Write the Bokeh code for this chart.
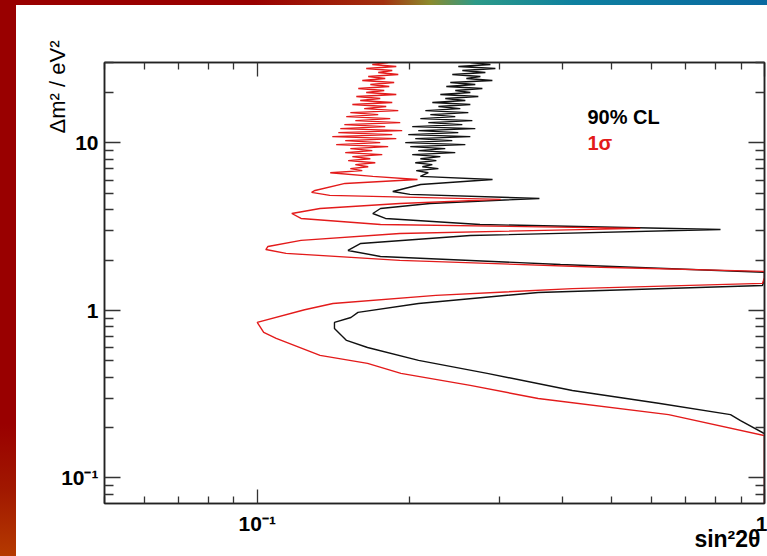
from bokeh.plotting import figure
from bokeh.models import FixedTicker, LogAxis, Label, Div, Range1d, Title
from bokeh.layouts import column, row
from bokeh.embed import file_html
from bokeh.resources import INLINE

# ---------------- data ----------------
red_dm2 = [30.2, 29.38, 28.58, 27.80, 27.05, 26.31, 25.60, 24.90, 24.23, 23.57, 22.93, 22.31,
           21.70, 21.11, 20.54, 19.98, 19.44, 18.91, 18.40, 17.90, 17.41, 16.94, 16.48, 16.03,
           15.59, 15.17, 14.76, 14.36, 13.97, 13.59, 13.22, 12.86, 12.51, 12.17, 11.84, 11.52,
           11.21, 10.90, 10.61, 10.32, 10.04, 9.77, 9.50, 9.24, 8.99, 8.75, 8.51, 8.28, 8.05,
           7.84, 7.62, 7.42, 7.21, 7.02, 6.83, 6.64,
           6.31, 6.05, 5.73, 5.20, 5.07, 4.86, 4.60, 4.35, 4.06, 3.79, 3.54, 3.26, 3.09, 2.88,
           2.62, 2.41, 2.31, 2.19, 1.99, 1.81, 1.71, 1.57, 1.45, 1.35, 1.23, 1.10, 1.01, 0.848,
           0.739, 0.681, 0.539, 0.483, 0.421, 0.357, 0.298, 0.239, 0.179, 0.0704]
red_sin2 = [0.1812, 0.1686, 0.1880, 0.1640, 0.1846, 0.1732, 0.1897, 0.1655, 0.1788, 0.1611,
            0.1862, 0.1671, 0.1821, 0.1582, 0.1780, 0.1640, 0.1880, 0.1568, 0.1748, 0.1596,
            0.1846, 0.1540, 0.1796, 0.1625, 0.1897, 0.1526, 0.1732, 0.1498, 0.1829, 0.1561,
            0.1914, 0.1485, 0.1788, 0.1458, 0.1931, 0.1445, 0.1846, 0.1406, 0.1880, 0.1491,
            0.1748, 0.1431, 0.1812, 0.1526, 0.1686, 0.1491, 0.1764, 0.1540, 0.1671, 0.1511,
            0.1709, 0.1561, 0.1655, 0.1526, 0.1611, 0.1393,
            0.169, 0.207, 0.149, 0.130, 0.128, 0.139, 0.302, 0.191, 0.133, 0.117, 0.122, 0.175,
            0.569, 0.191, 0.122, 0.105, 0.104, 0.114, 0.191, 0.475, 1.0, 1.0, 0.991, 0.418,
            0.225, 0.141, 0.124, 0.100, 0.103, 0.109, 0.133, 0.165, 0.192, 0.263, 0.358, 0.647,
            1.0, 1.0]

black_dm2 = [30.2, 29.38, 28.58, 27.80, 27.05, 26.31, 25.60, 24.90, 24.23, 23.57, 22.93, 22.31,
             21.70, 21.11, 20.54, 19.98, 19.44, 18.91, 18.40, 17.90, 17.41, 16.94, 16.48, 16.03,
             15.59, 15.17, 14.76, 14.36, 13.97, 13.59, 13.22, 12.86, 12.51, 12.17, 11.84, 11.52,
             11.21, 10.90, 10.61, 10.32, 10.04, 9.77, 9.50, 9.24, 8.99, 8.75, 8.51, 8.28, 8.05,
             7.84, 7.62, 7.42, 7.21, 7.02, 6.83, 6.64,
             6.31, 6.05, 5.65, 5.13, 4.93, 4.66, 4.35, 4.06, 3.79, 3.54, 3.26, 3.04, 2.80, 2.51,
             2.28, 2.10, 1.88, 1.69, 1.55, 1.41, 1.28, 1.10, 0.973, 0.908, 0.848, 0.781, 0.662,
             0.601, 0.503, 0.421, 0.333, 0.279, 0.239, 0.220, 0.184, 0.0704]
black_sin2 = [0.2631, 0.2882, 0.2491, 0.2948, 0.2537, 0.2817, 0.2424, 0.2754, 0.2584, 0.2908,
              0.2402, 0.2691, 0.2359, 0.2779, 0.2457, 0.2631, 0.2296, 0.2728, 0.2348, 0.2572,
              0.2214, 0.2631, 0.2276, 0.2514, 0.2145, 0.2607, 0.2194, 0.2457, 0.2097, 0.2655,
              0.2174, 0.2537, 0.2021, 0.2691, 0.2077, 0.2491, 0.1985, 0.2631, 0.2049, 0.2424,
              0.1958, 0.2572, 0.2003, 0.2348, 0.2077, 0.2457, 0.2021, 0.2296, 0.2097, 0.2255,
              0.2049, 0.2214, 0.2116, 0.2276, 0.2058, 0.2174,
              0.2097, 0.291, 0.210, 0.185, 0.200, 0.360, 0.219, 0.175, 0.169, 0.179, 0.275, 0.819,
              0.263, 0.160, 0.151, 0.175, 0.396, 1.0, 1.0, 0.991, 0.358, 0.208, 0.158, 0.153,
              0.142, 0.142, 0.150, 0.165, 0.208, 0.284, 0.418, 0.618, 0.857, 0.897, 1.0, 1.0]

x_major = [0.1, 1.0]
x_minor = [0.05, 0.06, 0.07, 0.08, 0.09, 0.2, 0.3, 0.4, 0.5, 0.6, 0.7, 0.8, 0.9]
x_labels = {0.1: "10\u207b\u00b9", 1.0: "1"}
y_major = [0.1, 1.0, 10.0]
y_minor = [0.08, 0.09, 0.2, 0.3, 0.4, 0.5, 0.6, 0.7, 0.8, 0.9,
           2.0, 3.0, 4.0, 5.0, 6.0, 7.0, 8.0, 9.0, 20.0, 30.0]
y_labels = {0.1: "10\u207b\u00b9", 1.0: "1", 10.0: "10"}

x_title = "sin\u00b22\u03b8"
y_title = "\u0394m\u00b2 / eV\u00b2"
legend_texts = ["90% CL", "1\u03c3"]
BLACK = "#111111"
RED = "#e31b1b"
FONT = "Liberation Sans"

p = figure(width=751, height=551, x_axis_type="log", y_axis_type="log",
           x_range=Range1d(0.05, 1.0), y_range=Range1d(0.0704, 30.2),
           output_backend="svg", toolbar_location=None,
           min_border_left=88, min_border_right=3, min_border_top=57, min_border_bottom=53)
p.grid.visible = False
p.outline_line_color = "#222222"
p.outline_line_width = 1.5
p.background_fill_color = "white"
p.border_fill_color = "white"

p.line(black_sin2, black_dm2, line_color=BLACK, line_width=1.4)
p.line(red_sin2, red_dm2, line_color=RED, line_width=1.4)


def style_axis(ax, major_in, minor_in, labels=True):
    ax.axis_line_color = "#222222"
    ax.axis_line_width = 1.5
    ax.major_tick_line_color = "#333333"
    ax.minor_tick_line_color = "#333333"
    ax.major_tick_line_width = 1.3
    ax.minor_tick_line_width = 1.3
    ax.major_tick_in = major_in
    ax.major_tick_out = 0
    ax.minor_tick_in = minor_in
    ax.minor_tick_out = 0
    if labels:
        ax.major_label_text_font = FONT
        ax.major_label_text_font_style = "bold"
        ax.major_label_text_font_size = "21px"
        ax.major_label_text_color = "black"
    else:
        ax.major_label_text_font_size = "0px"
        ax.major_label_standoff = 0


xa = p.xaxis[0]
xa.ticker = FixedTicker(ticks=x_major, minor_ticks=x_minor)
xa.major_label_overrides = x_labels
style_axis(xa, 14, 7)
xa.major_label_standoff = 8

ya = p.yaxis[0]
ya.ticker = FixedTicker(ticks=y_major, minor_ticks=y_minor)
ya.major_label_overrides = y_labels
style_axis(ya, 16, 9)
ya.major_label_standoff = 6

top = LogAxis(ticker=FixedTicker(ticks=x_major, minor_ticks=x_minor))
style_axis(top, 14, 7, labels=False)
top.major_label_overrides = {0.1: "", 1.0: ""}
p.add_layout(top, "above")

right = LogAxis(ticker=FixedTicker(ticks=y_major, minor_ticks=y_minor))
style_axis(right, 16, 9, labels=False)
right.major_label_overrides = {0.1: "", 1.0: "", 10.0: ""}
p.add_layout(right, "right")

# axis titles as panel titles (right/top aligned like the reference)
xt = Title(text=x_title, align="right", vertical_align="top", offset=4, standoff=-24,
           text_font=FONT, text_font_style="bold", text_font_size="23px", text_color="black")
p.add_layout(xt, "below")
yt = Title(text=y_title, align="right", vertical_align="bottom", offset=-22, standoff=-22,
           text_font=FONT, text_font_style="normal", text_font_size="22px", text_color="black")
p.add_layout(yt, "left")

# legend text
p.add_layout(Label(x=0.4477, y=14.3, text=legend_texts[0], text_align="left",
                   text_baseline="alphabetic", text_font=FONT, text_font_style="bold",
                   text_font_size="20px", text_color="black"))
p.add_layout(Label(x=0.4477, y=10.0, text=legend_texts[1], text_align="left",
                   text_baseline="alphabetic", text_font=FONT, text_font_style="bold",
                   text_font_size="20px", text_color=RED))

top_strip = Div(text="", width=767, height=5, margin=0,
                styles={"background": "linear-gradient(to right, #990000 0%, #990000 33%, "
                                      "#a3300f 50%, #8c8a2c 56%, #2c9a88 62%, #0e80a0 75%, "
                                      "#0a68a0 100%)"})
left_strip = Div(text="", width=16, height=551, margin=0,
                 styles={"background": "linear-gradient(to bottom, #990000 0%, #990000 76%, "
                                       "#a11800 88%, #b53a00 100%)"})

layout = column(top_strip, row(left_strip, p, spacing=0, margin=0), spacing=0, margin=0)

open("out.html", "w").write(file_html(layout, INLINE))
